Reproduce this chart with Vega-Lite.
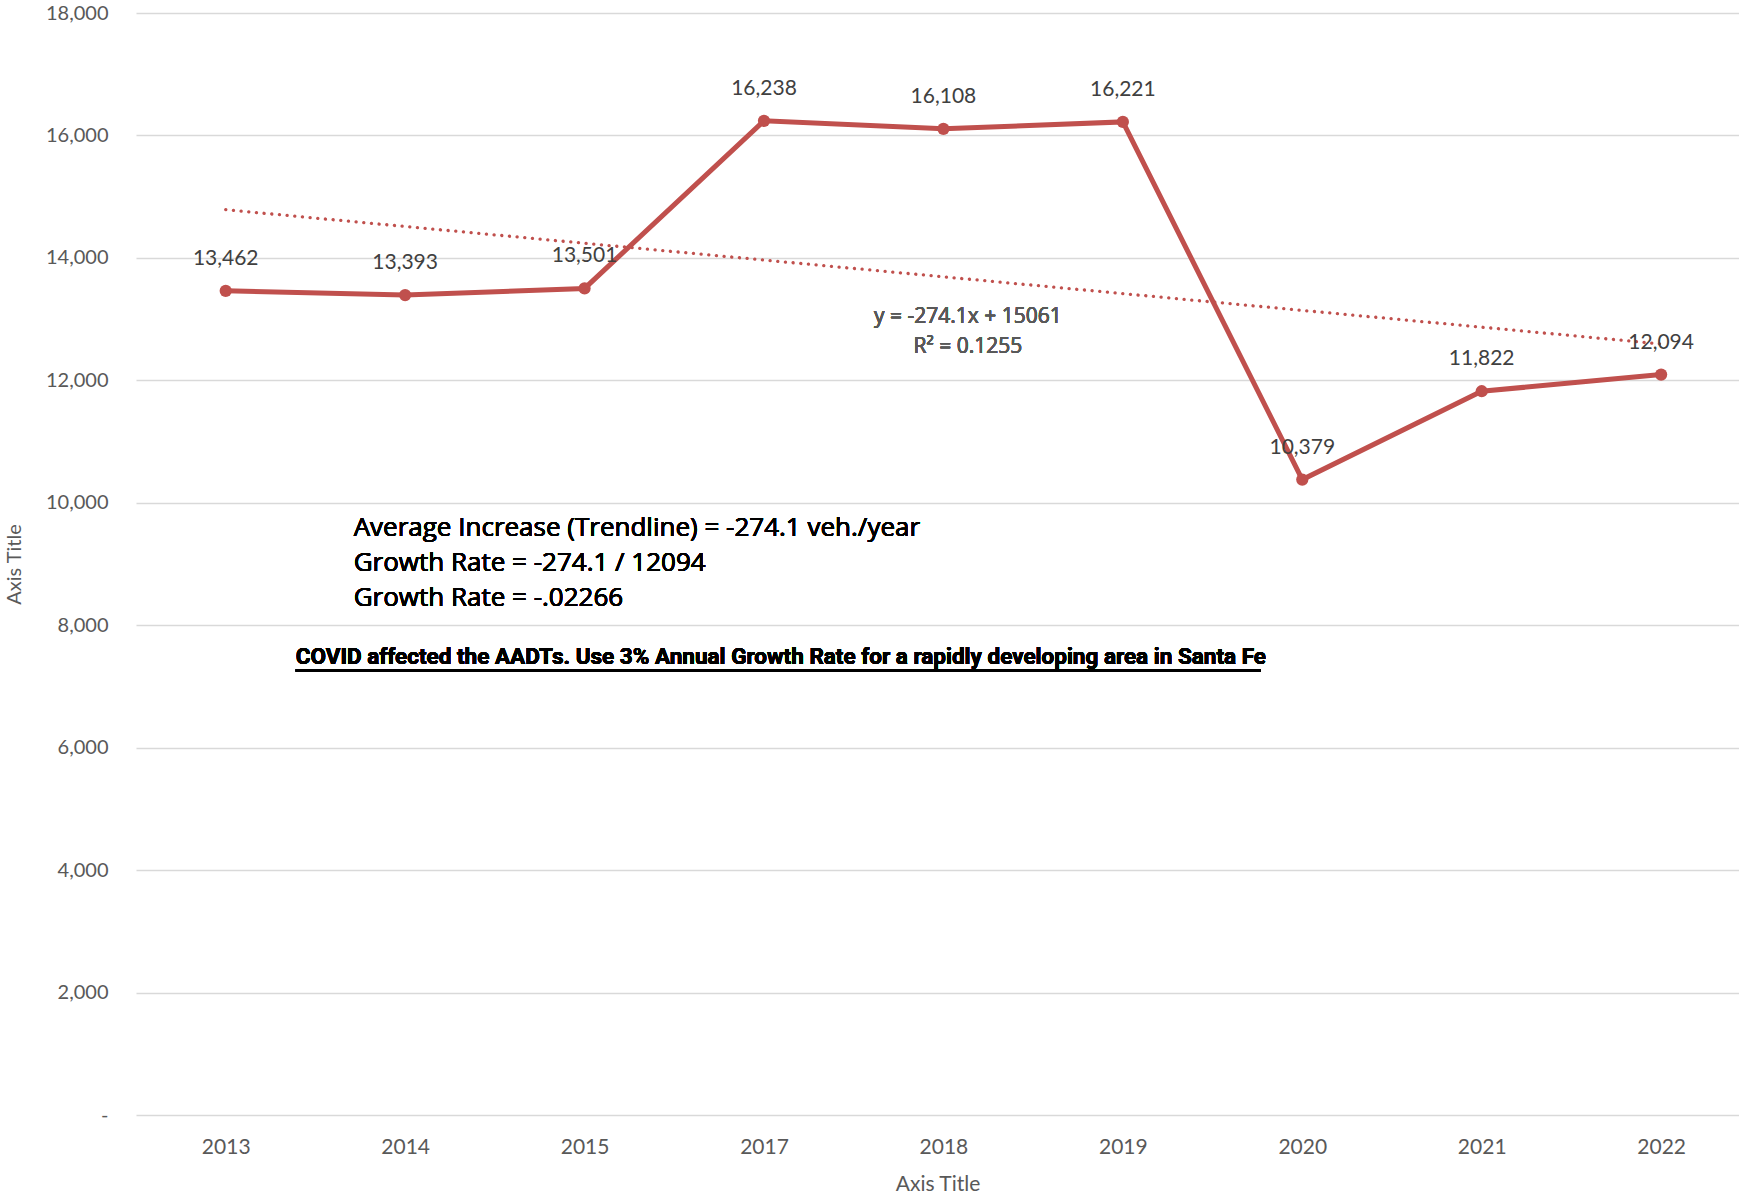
{
  "$schema": "https://vega.github.io/schema/vega-lite/v6.json",
  "width": 1603,
  "height": 1102,
  "autosize": {"type": "none"},
  "padding": {"left": 136, "top": 13, "right": 0, "bottom": 82},
  "background": "white",
  "config": {"view": {"stroke": null}, "font": "Lato"},
  "data": {
    "values": [
      {"year": "2013", "x": 1, "aadt": 13462},
      {"year": "2014", "x": 2, "aadt": 13393},
      {"year": "2015", "x": 3, "aadt": 13501},
      {"year": "2017", "x": 4, "aadt": 16238},
      {"year": "2018", "x": 5, "aadt": 16108},
      {"year": "2019", "x": 6, "aadt": 16221},
      {"year": "2020", "x": 7, "aadt": 10379},
      {"year": "2021", "x": 8, "aadt": 11822},
      {"year": "2022", "x": 9, "aadt": 12094}
    ]
  },
  "encoding": {
    "x": {
      "field": "x",
      "type": "quantitative",
      "scale": {"domain": [0.5, 9.434], "nice": false, "zero": false},
      "axis": {
        "values": [1, 2, 3, 4, 5, 6, 7, 8, 9],
        "labelExpr": "['2013','2014','2015','2017','2018','2019','2020','2021','2022'][datum.value - 1]",
        "grid": false,
        "ticks": false,
        "domain": false,
        "labelFontSize": 21,
        "labelColor": "#595959",
        "labelPadding": 21,
        "title": "Axis Title",
        "titleFontSize": 21,
        "titleFontWeight": "normal",
        "titleColor": "#595959",
        "titleY": 69,
        "titleBaseline": "middle"
      }
    },
    "y": {
      "field": "aadt",
      "type": "quantitative",
      "scale": {"domain": [0, 18000], "nice": false},
      "axis": {
        "values": [0, 2000, 4000, 6000, 8000, 10000, 12000, 14000, 16000, 18000],
        "labelExpr": "datum.value == 0 ? '-   ' : format(datum.value, ',')",
        "grid": true,
        "gridColor": "#d9d9d9",
        "gridWidth": 1.5,
        "ticks": false,
        "domain": false,
        "labelFontSize": 20,
        "labelColor": "#595959",
        "labelPadding": 28,
        "title": "Axis Title",
        "titleFontSize": 20,
        "titleFontWeight": "normal",
        "titleColor": "#595959",
        "titleX": -122,
        "titleY": 551,
        "titleAngle": 270,
        "titleAlign": "center",
        "titleBaseline": "middle"
      }
    }
  },
  "layer": [
    {"mark": {"type": "line", "color": "#C0504D", "strokeWidth": 5}},
    {"mark": {"type": "circle", "color": "#C0504D", "size": 150, "opacity": 1}},
    {
      "transform": [{"regression": "aadt", "on": "x"}],
      "mark": {"type": "line", "color": "#C0504D", "strokeWidth": 3.3, "strokeDash": [0.1, 7.6], "strokeCap": "round"}
    },
    {
      "mark": {"type": "text", "dy": -32, "fontSize": 21, "fontWeight": "normal", "color": "#404040", "baseline": "middle"},
      "encoding": {"text": {"field": "aadt", "type": "quantitative", "format": ","}}
    },
    {
      "mark": {"type": "text", "font": "Open Sans", "fontSize": 21, "fontWeight": "normal", "color": "#595959", "align": "center", "baseline": "middle"},
      "encoding": {"x": {"datum": 5.136}, "y": {"datum": 13039}, "text": {"value": "y = -274.1x + 15061"}}
    },
    {
      "mark": {"type": "text", "font": "Open Sans", "fontSize": 21, "fontWeight": "normal", "color": "#595959", "align": "center", "baseline": "middle"},
      "encoding": {"x": {"datum": 5.136}, "y": {"datum": 12549}, "text": {"value": "R² = 0.1255"}}
    },
    {
      "mark": {"type": "text", "font": "Open Sans", "fontSize": 26, "fontWeight": "normal", "color": "#000000", "align": "left", "baseline": "middle"},
      "encoding": {"x": {"datum": 1.713}, "y": {"datum": 9596}, "text": {"value": "Average Increase (Trendline) = -274.1 veh./year"}}
    },
    {
      "mark": {"type": "text", "font": "Open Sans", "fontSize": 26, "fontWeight": "normal", "color": "#000000", "align": "left", "baseline": "middle"},
      "encoding": {"x": {"datum": 1.713}, "y": {"datum": 9024}, "text": {"value": "Growth Rate = -274.1 / 12094"}}
    },
    {
      "mark": {"type": "text", "font": "Open Sans", "fontSize": 26, "fontWeight": "normal", "color": "#000000", "align": "left", "baseline": "middle"},
      "encoding": {"x": {"datum": 1.713}, "y": {"datum": 8437}, "text": {"value": "Growth Rate = -.02266"}}
    },
    {
      "mark": {"type": "text", "font": "Roboto", "fontWeight": "bold", "fontSize": 22.5, "color": "#000000", "align": "left", "baseline": "middle"},
      "encoding": {"x": {"datum": 1.39}, "y": {"datum": 7474}, "text": {"value": "COVID affected the AADTs. Use 3%  Annual Growth Rate for a rapidly  developing area in Santa Fe"}}
    },
    {
      "mark": {"type": "rule", "color": "#000000", "strokeWidth": 2.5},
      "encoding": {"x": {"datum": 1.39}, "x2": {"datum": 6.769}, "y": {"datum": 7262}}
    }
  ]
}
